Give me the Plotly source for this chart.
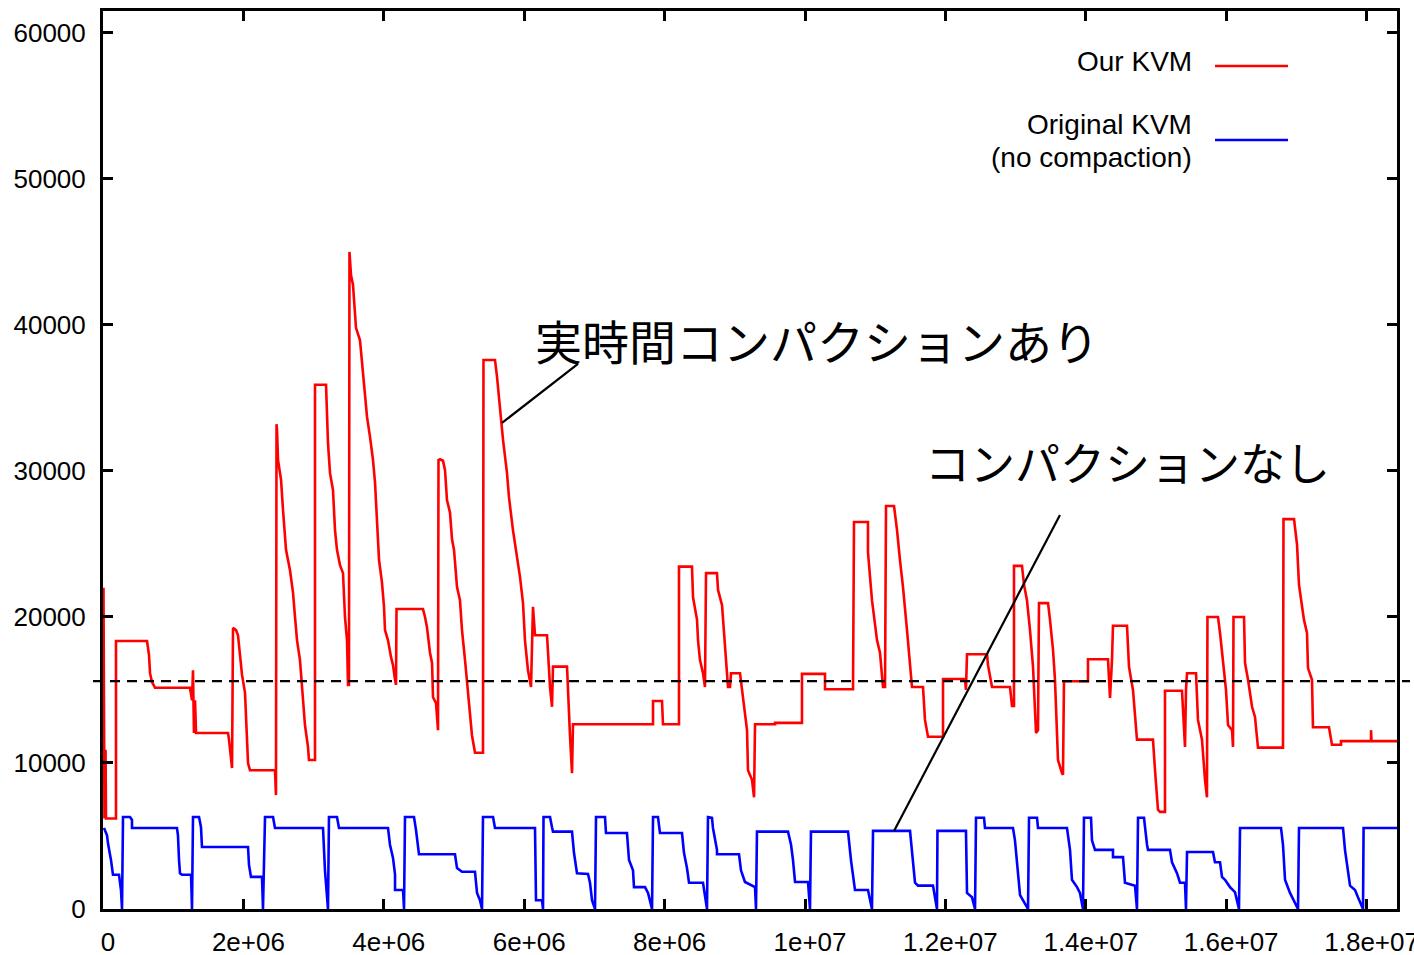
import plotly.graph_objects as go

# ---------------- data (x in units of 1e6, y raw) ----------------
red_x_m = [0.007, 0.014, 0.021, 0.036, 0.043, 0.185, 0.185, 0.627, 0.655, 0.670, 0.698, 0.741,
           1.239, 1.268, 1.282, 1.296, 1.311, 1.325, 1.781, 1.795, 1.838, 1.852, 1.895, 1.923,
           1.980, 2.023, 2.051, 2.066, 2.094, 2.450, 2.464, 2.472, 2.479, 2.493, 2.536, 2.564,
           2.607, 2.664, 2.707, 2.735, 2.764, 2.806, 2.849, 2.877, 2.920, 2.934, 3.020, 3.020,
           3.177, 3.191, 3.205, 3.234, 3.276, 3.305, 3.333, 3.376, 3.419, 3.447, 3.476, 3.490,
           3.504, 3.511, 3.533, 3.561, 3.604, 3.661, 3.704, 3.732, 3.761, 3.803, 3.846, 3.875,
           3.903, 3.932, 3.974, 4.003, 4.017, 4.060, 4.103, 4.131, 4.160, 4.174, 4.181, 4.558,
           4.587, 4.615, 4.658, 4.687, 4.701, 4.744, 4.772, 4.779, 4.801, 4.843, 4.872, 4.900,
           4.943, 4.972, 5.000, 5.043, 5.085, 5.114, 5.157, 5.199, 5.256, 5.299, 5.413, 5.420,
           5.584, 5.613, 5.655, 5.698, 5.755, 5.783, 5.840, 5.897, 5.940, 5.983, 6.011, 6.054,
           6.097, 6.125, 6.154, 6.325, 6.339, 6.368, 6.396, 6.410, 6.610, 6.624, 6.652, 6.681,
           6.695, 7.835, 7.835, 7.963, 7.977, 8.205, 8.205, 8.390, 8.405, 8.462, 8.476, 8.504,
           8.547, 8.575, 8.590, 8.746, 8.761, 8.818, 8.860, 8.903, 8.932, 8.946, 9.074, 9.103,
           9.117, 9.174, 9.188, 9.245, 9.274, 9.288, 9.573, 9.573, 9.957, 9.957, 10.285, 10.285,
           10.684, 10.698, 10.897, 10.897, 10.954, 11.026, 11.068, 11.111, 11.140, 11.154, 11.268, 11.311,
           11.353, 11.396, 11.453, 11.496, 11.524, 11.681, 11.709, 11.752, 11.966, 11.966, 12.279, 12.293,
           12.308, 12.593, 12.607, 12.664, 12.920, 12.949, 12.977, 12.977, 13.091, 13.120, 13.162, 13.205,
           13.248, 13.291, 13.319, 13.333, 13.462, 13.490, 13.533, 13.561, 13.604, 13.661, 13.675, 13.689,
           14.031, 14.031, 14.316, 14.345, 14.373, 14.387, 14.587, 14.615, 14.672, 14.729, 14.957, 14.986,
           15.028, 15.057, 15.128, 15.128, 15.370, 15.413, 15.427, 15.442, 15.570, 15.598, 15.655, 15.698,
           15.726, 15.733, 15.883, 15.912, 15.954, 15.997, 16.026, 16.083, 16.097, 16.104, 16.254, 16.268,
           16.311, 16.368, 16.410, 16.453, 16.809, 16.816, 16.966, 17.009, 17.037, 17.108, 17.151, 17.165,
           17.222, 17.236, 17.464, 17.507, 17.635, 17.635, 18.063, 18.063, 18.070, 18.433]
red_y = [22000, 14300, 6200, 10900, 6200, 6200, 18350, 18350, 17400, 16150, 15550, 15150,
         15150, 14300, 16350, 12050, 14300, 12050, 12050, 11600, 9650, 19250, 19100, 18750,
         16050, 14800, 12250, 10000, 9500, 9500, 7800, 33200, 32800, 30750, 29400, 27350,
         24600, 23200, 21650, 20000, 18400, 17050, 14300, 12600, 11100, 10200, 10200, 35900,
         35900, 33700, 31900, 29850, 28700, 25950, 24600, 23550, 23000, 20000, 18400, 15350,
         15350, 45000, 43400, 42750, 39800, 38950, 36900, 35350, 33700, 32350, 30750, 29200,
         26850, 23900, 22350, 20700, 19100, 18400, 17250, 16700, 15700, 15350, 20550, 20550,
         20000, 19300, 17550, 16850, 14500, 14100, 12250, 30750, 30800, 30700, 30050, 28000,
         27150, 25300, 24600, 22050, 21150, 19100, 17050, 15000, 11900, 10700, 10700, 37600,
         37600, 36450, 34050, 32150, 29850, 28200, 25950, 24100, 22750, 20950, 18400, 16350,
         15200, 20700, 18750, 18750, 17250, 15200, 13850, 16600, 16600, 14800, 11900, 9300,
         12650, 12650, 14250, 14250, 12650, 12650, 23450, 23450, 21350, 19800, 18400, 17050,
         16150, 15200, 23000, 23000, 21850, 20800, 17750, 15200, 15200, 16150, 16150, 15000,
         14300, 12250, 9500, 8850, 7650, 12650, 12650, 12750, 12750, 16100, 16100, 15050,
         15050, 26500, 26500, 24450, 21150, 18400, 17550, 15200, 15200, 27600, 27600, 25950,
         23900, 22050, 19100, 16600, 15200, 15200, 12950, 11800, 11800, 15750, 15750, 15000,
         17450, 17450, 16700, 15200, 15200, 13900, 13900, 23500, 23500, 22200, 21150, 19100,
         16600, 12050, 12250, 20950, 20950, 19800, 17750, 15700, 10200, 9300, 9200, 15600,
         15600, 17100, 17100, 14450, 17050, 19400, 19400, 16600, 15000, 11600, 11600, 9500,
         6800, 6650, 6650, 14950, 14950, 11100, 15000, 16150, 16150, 12950, 11600, 8850,
         7650, 20000, 20000, 18900, 17050, 15000, 12600, 12250, 11100, 20000, 20000, 16850,
         15700, 13850, 13150, 11050, 11050, 26700, 26700, 24950, 22200, 19800, 18900, 16500,
         15700, 12450, 12450, 11250, 11250, 11500, 11500, 12250, 11500, 11500]

blue_x_m = [0.014, 0.057, 0.071, 0.100, 0.114, 0.142, 0.228, 0.256, 0.271, 0.285, 0.385, 0.413,
            0.413, 1.054, 1.068, 1.083, 1.097, 1.125, 1.254, 1.268, 1.282, 1.368, 1.396, 1.410,
            2.066, 2.080, 2.108, 2.265, 2.279, 2.308, 2.422, 2.450, 3.134, 3.162, 3.191, 3.205,
            3.219, 3.333, 3.362, 4.060, 4.088, 4.131, 4.160, 4.160, 4.274, 4.288, 4.302, 4.430,
            4.459, 4.487, 4.501, 5.014, 5.043, 5.114, 5.299, 5.328, 5.370, 5.399, 5.413, 5.556,
            5.584, 6.154, 6.168, 6.254, 6.268, 6.275, 6.368, 6.396, 6.410, 6.681, 6.709, 6.752,
            6.909, 6.937, 6.966, 7.009, 7.023, 7.151, 7.165, 7.464, 7.493, 7.550, 7.564, 7.721,
            7.764, 7.821, 7.835, 7.906, 7.934, 8.248, 8.276, 8.319, 8.348, 8.547, 8.604, 8.618,
            8.675, 8.689, 8.746, 8.746, 9.060, 9.088, 9.145, 9.288, 9.302, 9.316, 9.758, 9.801,
            9.829, 9.858, 10.043, 10.071, 10.085, 10.613, 10.655, 10.712, 10.897, 10.954, 10.969, 11.496,
            11.524, 11.567, 11.610, 11.823, 11.880, 11.887, 12.293, 12.308, 12.379, 12.422, 12.436, 12.550,
            12.564, 12.963, 12.991, 13.020, 13.063, 13.177, 13.191, 13.305, 13.319, 13.732, 13.775, 13.803,
            13.875, 13.917, 13.960, 13.974, 14.074, 14.088, 14.131, 14.387, 14.387, 14.530, 14.558, 14.701,
            14.729, 14.744, 14.829, 14.872, 14.886, 15.199, 15.228, 15.299, 15.342, 15.413, 15.427, 15.442,
            15.812, 15.840, 15.912, 15.940, 15.983, 16.054, 16.125, 16.182, 16.197, 16.781, 16.809, 16.838,
            16.909, 17.023, 17.037, 17.664, 17.692, 17.764, 17.835, 17.877, 17.949, 17.957, 18.433]
blue_y = [5550, 5050, 4500, 3850, 3350, 2350, 2350, 1300, 0, 6300, 6300, 6100,
          5550, 5550, 5050, 3350, 2450, 2350, 2350, 0, 6300, 6300, 5600, 4250,
          4250, 3000, 2200, 2200, 0, 6300, 6300, 5550, 5550, 2650, 950, 0,
          6300, 6300, 5550, 5550, 4400, 3500, 2350, 1300, 1300, 0, 6300, 6300,
          5400, 4050, 3750, 3750, 2800, 2550, 2550, 1100, 600, 0, 6300, 6300,
          5550, 5550, 600, 600, 0, 6300, 6300, 5600, 5300, 5300, 3850, 2450,
          2400, 1800, 600, 0, 6300, 6300, 5200, 5200, 3350, 2650, 1500, 1500,
          1100, 0, 6300, 6300, 5200, 5200, 3850, 2800, 1800, 1800, 0, 6300,
          6250, 5550, 4050, 3750, 3750, 2650, 1850, 1500, 0, 5300, 5300, 4400,
          3350, 1850, 1850, 0, 5300, 5300, 3350, 1300, 1300, 0, 5350, 5350,
          4050, 1800, 1600, 1600, 0, 5350, 5350, 1100, 800, 0, 6250, 6250,
          5550, 5550, 4700, 3350, 950, 0, 6250, 6250, 5550, 5550, 4050, 2000,
          1500, 1100, 0, 6250, 6250, 4700, 4050, 4050, 3550, 3550, 1800, 1600,
          0, 6250, 6250, 4400, 4050, 4050, 3200, 2450, 1800, 1800, 0, 3900,
          3900, 3200, 3200, 2200, 2000, 1500, 1150, 0, 5550, 5550, 4400, 2000,
          1100, 0, 5550, 5550, 4050, 1600, 1300, 800, 0, 5550, 5550]

threshold_y = 15600

x_tick_vals = [0, 2e6, 4e6, 6e6, 8e6, 1e7, 1.2e7, 1.4e7, 1.6e7, 1.8e7]
x_tick_text = ["0", "2e+06", "4e+06", "6e+06", "8e+06", "1e+07", "1.2e+07", "1.4e+07", "1.6e+07", "1.8e+07"]
y_tick_vals = [0, 10000, 20000, 30000, 40000, 50000, 60000]
y_tick_text = ["0", "10000", "20000", "30000", "40000", "50000", "60000"]

series_names = ["Our KVM", "Original KVM", "(no compaction)"]
label_with = "実時間コンパクションあり"
label_without = "コンパクションなし"

# ---------------- figure ----------------
red_x = [v * 1e6 for v in red_x_m]
blue_x = [v * 1e6 for v in blue_x_m]

fig = go.Figure()
fig.add_trace(go.Scatter(x=blue_x, y=blue_y, mode="lines",
                         line=dict(color="#0000ff", width=2.6), showlegend=False))
fig.add_trace(go.Scatter(x=red_x, y=red_y, mode="lines",
                         line=dict(color="#ff0000", width=2.6), showlegend=False))

W, H = 1414, 955
ml, mr, mt, mb = 103, 17, 11, 46
pw, ph = W - ml - mr, H - mt - mb

def px(xp):
    return (xp - ml) / pw

def py(yp):
    return (H - mb - yp) / ph

shapes = []
# dashed threshold line (extends slightly beyond the frame)
shapes.append(dict(type="line", xref="paper", yref="y", x0=px(93), x1=px(1410),
                   y0=threshold_y, y1=threshold_y,
                   line=dict(color="black", width=2.2, dash="10px,7px")))
# pointer lines
shapes.append(dict(type="line", xref="x", yref="y", x0=6.766e6, y0=37330, x1=5.684e6, y1=33290,
                   line=dict(color="black", width=2.2)))
shapes.append(dict(type="line", xref="x", yref="y", x0=13.632e6, y0=26990, x1=11.268e6, y1=5343,
                   line=dict(color="black", width=2.2)))
# legend samples
shapes.append(dict(type="line", xref="paper", yref="paper", x0=px(1215), x1=px(1288),
                   y0=py(66), y1=py(66), line=dict(color="#ff0000", width=2.6)))
shapes.append(dict(type="line", xref="paper", yref="paper", x0=px(1215), x1=px(1288),
                   y0=py(140), y1=py(140), line=dict(color="#0000ff", width=2.6)))

lat = "Liberation Sans, Arial, sans-serif"
jp = "Noto Sans CJK JP"
annotations = [
    dict(text=series_names[0], xref="paper", yref="paper", x=px(1194), y=py(62),
         xanchor="right", yanchor="middle", showarrow=False, font=dict(family=lat, size=28, color="black")),
    dict(text=series_names[1], xref="paper", yref="paper", x=px(1194), y=py(125),
         xanchor="right", yanchor="middle", showarrow=False, font=dict(family=lat, size=28, color="black")),
    dict(text=series_names[2], xref="paper", yref="paper", x=px(1194), y=py(158),
         xanchor="right", yanchor="middle", showarrow=False, font=dict(family=lat, size=28, color="black")),
    dict(text=label_with, xref="x", yref="y", x=10.17e6, y=39000,
         xanchor="center", yanchor="middle", showarrow=False, font=dict(family=jp, size=47, color="black")),
    dict(text=label_without, xref="x", yref="y", x=14.60e6, y=30620,
         xanchor="center", yanchor="middle", showarrow=False, font=dict(family=jp, size=45, color="black")),
]

axis_common = dict(showline=True, linecolor="black", linewidth=3, mirror="ticks",
                   ticks="inside", ticklen=10, tickwidth=3, tickcolor="black",
                   showgrid=False, zeroline=False, automargin=False,
                   ticklabeloverflow="allow",
                   tickfont=dict(family=lat, size=26, color="black"))

fig.update_layout(
    width=W, height=H,
    margin=dict(l=ml, r=mr, t=mt, b=mb, autoexpand=False),
    paper_bgcolor="white", plot_bgcolor="white",
    shapes=shapes, annotations=annotations,
    xaxis=dict(range=[0, 18.433e6], tickvals=x_tick_vals, ticktext=x_tick_text,
               ticklabelstandoff=8, ticklabelshift=5, **axis_common),
    yaxis=dict(range=[0, 61500], tickvals=y_tick_vals, ticktext=y_tick_text,
               ticklabelstandoff=9, **axis_common),
)

fig.write_html("out.html",
               config={"displayModeBar": False},
               post_script="document.body.style.margin='0';document.body.style.overflow='hidden';")
